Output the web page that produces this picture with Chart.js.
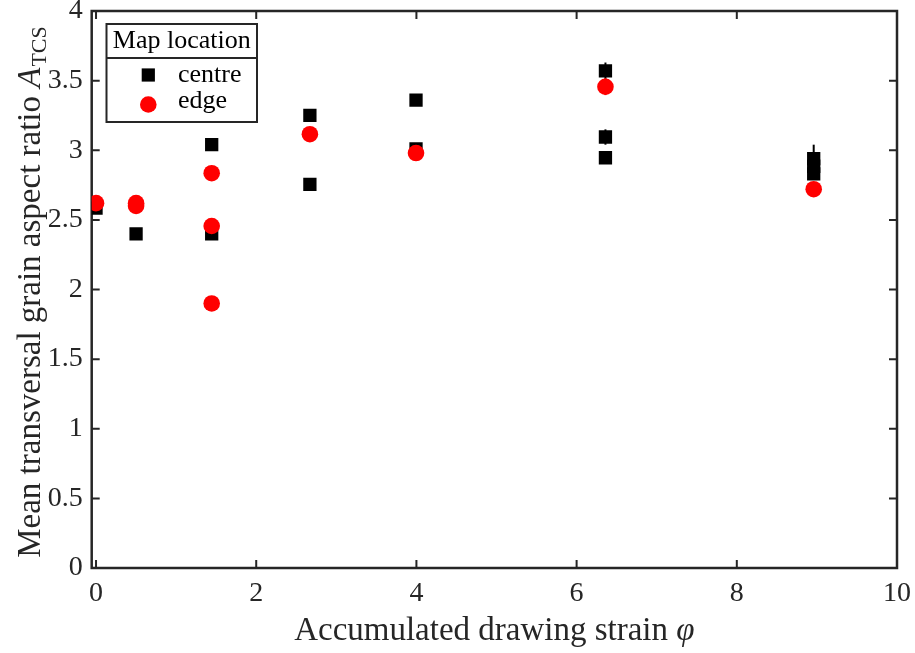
<!DOCTYPE html>
<html>
<head>
<meta charset="utf-8">
<script src="https://cdn.jsdelivr.net/npm/chart.js@4.4.1/dist/chart.umd.min.js"></script>
<style>
  html, body { margin: 0; padding: 0; background: #fff; }
  #wrap { width: 915px; height: 653px; }
</style>
</head>
<body>
<div id="wrap"><canvas id="chart" width="915" height="653"></canvas></div>
<script>
// values
var centreX   = [0, 0.5, 1.444, 1.444, 2.67, 2.67, 3.995, 3.995, 6.36, 6.36, 6.36, 8.96, 8.96, 8.96];
var centreY   = [2.585, 2.40, 3.04, 2.40, 3.25, 2.755, 3.36, 3.01, 3.57, 3.095, 2.946, 2.94, 2.885, 2.83];
var centreErr = [0.03, 0.03, 0.03, 0.03, 0.03, 0.03, 0.03, 0.03, 0.06, 0.055, 0.03, 0.10, 0.03, 0.03];

var edgeX   = [0, 0.5, 0.5, 1.444, 1.444, 1.444, 2.67, 3.995, 6.36, 8.96];
var edgeY   = [2.62, 2.62, 2.60, 2.835, 2.456, 1.90, 3.115, 2.98, 3.456, 2.72];
var edgeErr = [0.02, 0.02, 0.02, 0.02, 0.02, 0.02, 0.02, 0.02, 0.06, 0.02];

var xTickValues = [0, 2, 4, 6, 8, 10];
var yTickValues = [0, 0.5, 1, 1.5, 2, 2.5, 3, 3.5, 4];
var seriesNames = ["centre", "edge"];
var legendTitle = "Map location";
var xTitle = "Accumulated drawing strain ";
var yTitle = "Mean transversal grain aspect ratio ";

var axisColor = "#262626";
var serif = "'Liberation Serif', 'Times New Roman', serif";

function toPoints(xs, ys, es) {
    var pts = [];
    for (let i = 0; i < xs.length; i++) {
        pts.push({ x: xs[i], y: ys[i], err: es[i] });
    }
    return pts;
}

// error bars, drawn under the markers
const errorBars = {
    id: 'errorBars',
    beforeDatasetsDraw(chart) {
        const ctx = chart.ctx;
        const xs = chart.scales.x, ys = chart.scales.y;
        ctx.save();
        ctx.lineWidth = 2;
        chart.data.datasets.forEach(function (ds) {
            ctx.strokeStyle = ds.backgroundColor;
            ds.data.forEach(function (p) {
                const px = xs.getPixelForValue(p.x);
                ctx.beginPath();
                ctx.moveTo(px, ys.getPixelForValue(p.y - p.err));
                ctx.lineTo(px, ys.getPixelForValue(p.y + p.err));
                ctx.stroke();
            });
        });
        ctx.restore();
    }
};

// MATLAB style box with inward ticks on all four sides
const boxAxes = {
    id: 'boxAxes',
    beforeDatasetsDraw(chart) {
        const ctx = chart.ctx;
        const a = chart.chartArea;
        const xs = chart.scales.x, ys = chart.scales.y;
        const tl = 8;
        ctx.save();
        ctx.strokeStyle = axisColor;
        ctx.lineWidth = 2;
        ctx.beginPath();
        xTickValues.forEach(function (v) {
            const px = xs.getPixelForValue(v);
            ctx.moveTo(px, a.bottom); ctx.lineTo(px, a.bottom - tl);
            ctx.moveTo(px, a.top); ctx.lineTo(px, a.top + tl);
        });
        yTickValues.forEach(function (v) {
            const py = ys.getPixelForValue(v);
            ctx.moveTo(a.left, py); ctx.lineTo(a.left + tl, py);
            ctx.moveTo(a.right, py); ctx.lineTo(a.right - tl, py);
        });
        ctx.stroke();
        ctx.lineWidth = 2.5;
        ctx.strokeRect(a.left, a.top, a.right - a.left, a.bottom - a.top);
        ctx.restore();
    }
};

// axis titles (with italic symbols) and the titled legend box
const labelsAndLegend = {
    id: 'labelsAndLegend',
    afterDraw(chart) {
        const ctx = chart.ctx;
        const a = chart.chartArea;
        ctx.save();
        ctx.fillStyle = axisColor;
        ctx.textBaseline = 'alphabetic';

        // x title
        ctx.font = "33px " + serif;
        let w1 = ctx.measureText(xTitle).width;
        ctx.font = "italic 33px " + serif;
        let w2 = ctx.measureText("φ").width;
        let cx = (a.left + a.right) / 2;
        let sx = cx - (w1 + w2) / 2;
        ctx.font = "33px " + serif;
        ctx.fillText(xTitle, sx, 640);
        ctx.font = "italic 33px " + serif;
        ctx.fillText("φ", sx + w1, 640);

        // y title, rotated
        ctx.save();
        ctx.translate(40, 0);
        ctx.rotate(-Math.PI / 2);
        ctx.font = "33px " + serif;
        let m1 = ctx.measureText(yTitle).width;
        ctx.font = "italic 33px " + serif;
        let m2 = ctx.measureText("A").width;
        ctx.font = "22px " + serif;
        let m3 = ctx.measureText("TCS").width;
        let cy = (a.top + a.bottom) / 2 + 3;
        let start = -cy - (m1 + m2 + m3) / 2;
        ctx.font = "33px " + serif;
        ctx.fillText(yTitle, start, 0);
        ctx.font = "italic 33px " + serif;
        ctx.fillText("A", start + m1, 0);
        ctx.font = "22px " + serif;
        ctx.fillText("TCS", start + m1 + m2 + 1, 6);
        ctx.restore();

        // legend
        const lx = 106.5, ly = 24, lw = 150.5, lh = 98, div = 58;
        ctx.fillStyle = "#ffffff";
        ctx.fillRect(lx, ly, lw, lh);
        ctx.strokeStyle = axisColor;
        ctx.lineWidth = 2;
        ctx.strokeRect(lx, ly, lw, lh);
        ctx.beginPath();
        ctx.moveTo(lx, div); ctx.lineTo(lx + lw, div);
        ctx.stroke();

        ctx.fillStyle = "#000000";
        ctx.font = "26px " + serif;
        ctx.textAlign = 'center';
        ctx.fillText(legendTitle, lx + lw / 2, 48);
        ctx.textAlign = 'left';
        ctx.fillText(seriesNames[0], 178, 82);
        ctx.fillText(seriesNames[1], 178, 108);

        ctx.fillStyle = "#000000";
        ctx.fillRect(148.3 - 6.6, 75 - 6.6, 13.2, 13.2);
        ctx.fillStyle = "#ff0000";
        ctx.beginPath();
        ctx.arc(148.3, 104.5, 8.3, 0, Math.PI * 2);
        ctx.fill();
        ctx.restore();
    }
};

const ctx = document.getElementById("chart").getContext("2d");
var chartId = new Chart(ctx, {
    type: 'scatter',
    data: {
        datasets: [{
            label: seriesNames[0],
            data: toPoints(centreX, centreY, centreErr),
            pointStyle: 'rect',
            radius: 9.4,
            hoverRadius: 9.4,
            borderWidth: 0,
            backgroundColor: '#000000',
            borderColor: '#000000',
            order: 1
        }, {
            label: seriesNames[1],
            data: toPoints(edgeX, edgeY, edgeErr),
            pointStyle: 'circle',
            radius: 8.3,
            hoverRadius: 8.3,
            borderWidth: 0,
            backgroundColor: '#ff0000',
            borderColor: '#ff0000',
            order: 0
        }]
    },
    options: {
        responsive: false,
        animation: false,
        events: [],
        layout: {
            padding: { left: 0, top: 11, right: 18, bottom: 0 }
        },
        scales: {
            x: {
                type: 'linear',
                min: -0.054,
                max: 10,
                grid: { display: false, drawTicks: false },
                border: { display: false },
                afterBuildTicks: function (scale) {
                    scale.ticks = xTickValues.map(v => ({ value: v }));
                },
                afterFit: function (scale) {
                    scale.height = 85;
                    scale.paddingLeft = 0;
                    scale.paddingRight = 0;
                },
                ticks: {
                    color: axisColor,
                    padding: 9,
                    maxRotation: 0,
                    font: { family: serif, size: 28 },
                    callback: function (v) { return String(v); }
                }
            },
            y: {
                type: 'linear',
                min: 0,
                max: 4,
                grid: { display: false, drawTicks: false },
                border: { display: false },
                afterBuildTicks: function (scale) {
                    scale.ticks = yTickValues.map(v => ({ value: v }));
                },
                afterFit: function (scale) {
                    scale.width = 91.7;
                    scale.paddingTop = 0;
                    scale.paddingBottom = 0;
                },
                ticks: {
                    color: axisColor,
                    padding: 9,
                    font: { family: serif, size: 28 },
                    callback: function (v) { return String(v); }
                }
            }
        },
        plugins: {
            legend: { display: false },
            tooltip: { enabled: false }
        }
    },
    plugins: [errorBars, boxAxes, labelsAndLegend]
});
</script>
</body>
</html>
